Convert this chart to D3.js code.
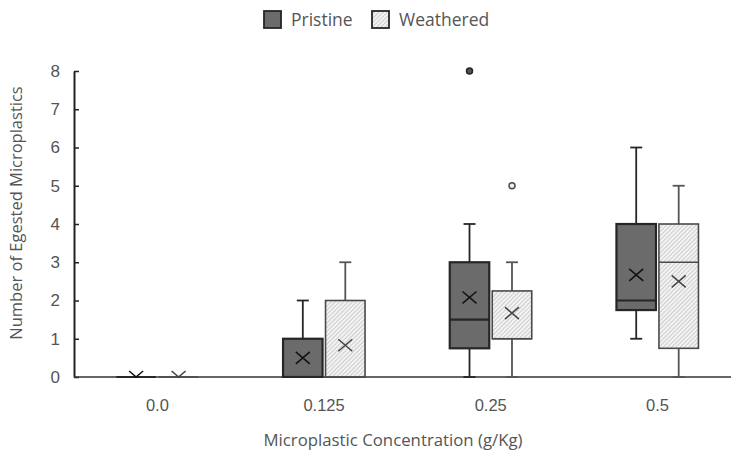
<!DOCTYPE html>
<html>
<head>
<meta charset="utf-8">
<script src="https://cdn.jsdelivr.net/npm/d3@7"></script>
<style>
  html, body { margin: 0; padding: 0; background: #fff; }
  svg { display: block; font-family: "Open Sans", "Noto Sans", sans-serif; }
</style>
</head>
<body>
<svg id="chart" width="731" height="460"></svg>
<script>
// Concentration groups on the x axis
const categories = ["0.0", "0.125", "0.25", "0.5"];
const seriesNames = ["Pristine", "Weathered"];
const yTicks = [0, 1, 2, 3, 4, 5, 6, 7, 8];

// Box-plot summaries per group (one entry per category)
const pristineMin    = [0, 0, 0, 1];
const pristineQ1     = [0, 0, 0.75, 1.75];
const pristineMedian = [0, 0, 1.5, 2];
const pristineQ3     = [0, 1, 3, 4];
const pristineMax    = [0, 2, 4, 6];
const pristineMean   = [0, 0.5, 2.08, 2.67];
const pristineOutliers = [[], [], [8], []];

const weatheredMin    = [0, 0, 0, 0];
const weatheredQ1     = [0, 0, 1, 0.75];
const weatheredMedian = [0, 0, 1, 3];
const weatheredQ3     = [0, 2, 2.25, 4];
const weatheredMax    = [0, 3, 3, 5];
const weatheredMean   = [0, 0.83, 1.67, 2.5];
const weatheredOutliers = [[], [], [5], []];

const series = [
  { name: seriesNames[0], min: pristineMin, q1: pristineQ1, med: pristineMedian, q3: pristineQ3, max: pristineMax, mean: pristineMean, out: pristineOutliers,
    fill: "#6b6b6b", stroke: "#262626", whisker: "#262626", mark: "#111", sw: 2.2 },
  { name: seriesNames[1], min: weatheredMin, q1: weatheredQ1, med: weatheredMedian, q3: weatheredQ3, max: weatheredMax, mean: weatheredMean, out: weatheredOutliers,
    fill: "url(#hatch)", stroke: "#4a4a4a", whisker: "#555", mark: "#444", sw: 1.6 }
];

const svg = d3.select("#chart");
const axisLeft = 74, axisBottom = 377, axisTop = 71;

const x = d3.scaleBand().domain(categories).range([axisLeft, axisLeft + 4 * 166.7]).paddingInner(0).paddingOuter(0);
const sub = d3.scaleBand().domain(seriesNames).range([-41, 41]).paddingInner(0.07);
const y = d3.scaleLinear().domain([0, 8]).range([axisBottom, axisTop]);

// Diagonal hatch for the weathered boxes
const defs = svg.append("defs");
const pat = defs.append("pattern").attr("id", "hatch").attr("patternUnits", "userSpaceOnUse")
  .attr("width", 3).attr("height", 3).attr("patternTransform", "rotate(45)");
pat.append("rect").attr("width", 3).attr("height", 3).attr("fill", "#f3f3f3");
pat.append("line").attr("x1", 0).attr("y1", 0).attr("x2", 0).attr("y2", 3)
  .attr("stroke", "#a0a0a0").attr("stroke-width", 0.9);

defs.append("clipPath").attr("id", "plotClip").append("rect")
  .attr("x", axisLeft).attr("y", 0).attr("width", 731 - axisLeft).attr("height", axisBottom + 1);

// Axes
const yAxis = d3.axisLeft(y).tickValues(yTicks).tickSizeInner(-5).tickSizeOuter(0).tickPadding(14).tickFormat(d3.format("d"));
const gy = svg.append("g").attr("transform", `translate(${axisLeft},0)`).call(yAxis);
gy.select(".domain").attr("stroke", "#222").attr("stroke-width", 2);
gy.selectAll(".tick line").attr("stroke", "#222").attr("stroke-width", 1.5);
gy.selectAll(".tick text").attr("font-size", 17).attr("fill", "#555");

const xAxis = d3.axisBottom(x).tickSize(0).tickPadding(22);
const gx = svg.append("g").attr("transform", `translate(0,${axisBottom})`).call(xAxis);
gx.select(".domain").remove();
gx.selectAll(".tick text").attr("font-size", 16.5).attr("fill", "#555");
svg.append("line").attr("x1", axisLeft).attr("x2", 731).attr("y1", axisBottom).attr("y2", axisBottom)
  .attr("stroke", "#333").attr("stroke-width", 1.5);

// Boxes
const plot = svg.append("g").attr("clip-path", "url(#plotClip)");
series.forEach(s => {
  categories.forEach((c, i) => {
    const x0 = x(c) + x.bandwidth() / 2 + sub(s.name);
    const w = sub.bandwidth();
    const cx = x0 + w / 2;
    const g = plot.append("g");
    // whiskers
    g.append("line").attr("x1", cx).attr("x2", cx).attr("y1", y(s.max[i])).attr("y2", y(s.q3[i]))
      .attr("stroke", s.whisker).attr("stroke-width", 1.8);
    g.append("line").attr("x1", cx).attr("x2", cx).attr("y1", y(s.q1[i])).attr("y2", y(s.min[i]))
      .attr("stroke", s.whisker).attr("stroke-width", 1.8);
    if (s.max[i] > s.q3[i]) g.append("line").attr("x1", cx - 6).attr("x2", cx + 6).attr("y1", y(s.max[i])).attr("y2", y(s.max[i]))
      .attr("stroke", s.whisker).attr("stroke-width", 1.8);
    if (s.min[i] < s.q1[i]) g.append("line").attr("x1", cx - 6).attr("x2", cx + 6).attr("y1", y(s.min[i])).attr("y2", y(s.min[i]))
      .attr("stroke", s.whisker).attr("stroke-width", 1.8);
    // box
    g.append("rect").attr("x", x0).attr("width", w)
      .attr("y", y(s.q3[i])).attr("height", Math.max(0, y(s.q1[i]) - y(s.q3[i])))
      .attr("fill", s.fill).attr("stroke", s.stroke).attr("stroke-width", s.q3[i] === s.q1[i] ? 3 : s.sw);
    // median
    g.append("line").attr("x1", x0).attr("x2", x0 + w).attr("y1", y(s.med[i])).attr("y2", y(s.med[i]))
      .attr("stroke", s.stroke).attr("stroke-width", s.sw);
    // mean marker
    const my = y(s.mean[i]), r = 7;
    g.append("path").attr("d", `M${cx - r},${my - r * 0.85}L${cx + r},${my + r * 0.85}M${cx + r},${my - r * 0.85}L${cx - r},${my + r * 0.85}`)
      .attr("stroke", s.mark).attr("stroke-width", 1.5).attr("fill", "none");
    // outliers
    s.out[i].forEach(v => {
      g.append("circle").attr("cx", cx).attr("cy", y(v)).attr("r", 3)
        .attr("fill", s.name === "Pristine" ? "#555" : "#eee").attr("stroke", s.stroke).attr("stroke-width", 1.5);
    });
  });
});

// Legend
const legend = svg.append("g");
const items = [{ name: "Pristine", x: 264, fill: "#6b6b6b", stroke: "#262626" }, { name: "Weathered", x: 372, fill: "url(#hatch)", stroke: "#262626" }];
items.forEach(it => {
  legend.append("rect").attr("x", it.x).attr("y", 11).attr("width", 17).attr("height", 17)
    .attr("fill", it.fill).attr("stroke", it.stroke).attr("stroke-width", 1.8);
  legend.append("text").attr("x", it.x + 27).attr("y", 26).attr("font-size", 17.5).attr("fill", "#555").text(it.name);
});

// Axis titles
svg.append("text").attr("x", 393).attr("y", 446).attr("text-anchor", "middle")
  .attr("font-size", 16.8).attr("fill", "#555").text("Microplastic Concentration (g/Kg)");
svg.append("text").attr("transform", "translate(22,213) rotate(-90)").attr("text-anchor", "middle")
  .attr("font-size", 16.5).attr("fill", "#555").text("Number of Egested Microplastics");
</script>
</body>
</html>
